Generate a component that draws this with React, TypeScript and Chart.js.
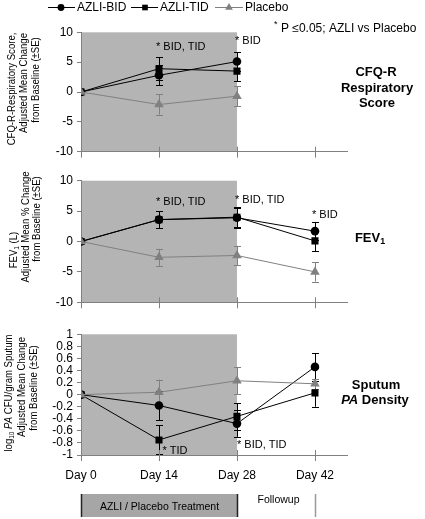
import React, { useEffect, useRef } from 'react';
import { Chart, registerables } from 'chart.js';

Chart.register(...registerables);

const W = 425;
const H = 519;
const FONT = '"Liberation Sans", Arial, Helvetica, sans-serif';

// ---------------- data ----------------
const days = [0, 14, 28, 42];
const dayLabels = ['Day 0', 'Day 14', 'Day 28', 'Day 42'];
const treatmentEndDay = 28;
const seriesNames = ['AZLI-BID', 'AZLI-TID', 'Placebo'];

// CFQ-R Respiratory Score
const cfqBid = [0, 2.8, 5.1];
const cfqBidSE = [0, 1.7, 1.6];
const cfqTid = [0, 3.9, 3.5];
const cfqTidSE = [0, 1.9, 1.7];
const cfqPlacebo = [0, -2.1, -0.7];
const cfqPlaceboSE = [0, 1.7, 1.7];
const cfqNotes = [
  { day: 14, value: 7.5, text: '* BID, TID' },
  { day: 28, value: 8.5, text: '* BID' },
];

// FEV1
const fevBid = [0, 3.6, 3.9, 1.7];
const fevBidSE = [0, 1.4, 1.6, 1.5];
const fevTid = [0, 3.6, 4.0, 0.1];
const fevTidSE = [0, 1.4, 1.6, 1.7];
const fevPlacebo = [0, -2.6, -2.3, -5.0];
const fevPlaceboSE = [0, 1.4, 1.6, 1.6];
const fevNotes = [
  { day: 14, value: 6.5, text: '* BID, TID' },
  { day: 28, value: 6.9, text: '* BID, TID' },
  { day: 42, value: 4.4, text: '* BID' },
];

// Sputum PA density
const paBid = [0, -0.18, -0.48, 0.46];
const paBidSE = [0, 0.24, 0.22, 0.23];
const paTid = [0, -0.75, -0.36, 0.03];
const paTidSE = [0, 0.24, 0.22, 0.23];
const paPlacebo = [0, 0.04, 0.23, 0.18];
const paPlaceboSE = [0, 0.21, 0.22, 0.08];
const paNotes = [
  { day: 14, value: -0.94, text: '* TID' },
  { day: 28, value: -0.83, text: '* BID, TID' },
];

// ---------------- styles ----------------
const SHADE = '#b4b4b4';
const AXIS = '#808080';
const GREY = '#808080';
const BLACK = '#000000';

type Seg = { t: string; sub?: boolean; italic?: boolean; bold?: boolean };
type Line = { segs: Seg[]; x: number; y: number };
type Series = { values: number[]; se: number[] };
type Note = { day: number; value: number; text: string };

interface PanelCfg {
  top: number;
  bottom: number;
  yMin: number;
  yMax: number;
  yStep: number;
  series: Series[];
  notes: Note[];
  noteDx: number[];
  yTitle: Line[];
  side: Line[];
  legend?: boolean;
  footer?: boolean;
}

const STYLES = [
  { color: BLACK, point: 'circle', radius: 4.3, order: 1 },
  { color: BLACK, point: 'rect', radius: 5, order: 2 },
  { color: GREY, point: 'triangle', radius: 5.5, order: 0 },
];

function segFont(s: Seg, size: number, bold: boolean) {
  const sz = s.sub ? size * 0.68 : size;
  return `${s.italic ? 'italic ' : ''}${bold || s.bold ? 'bold ' : ''}${sz}px ${FONT}`;
}

function drawRich(ctx: CanvasRenderingContext2D, segs: Seg[], cx: number, cy: number, size: number, bold: boolean) {
  let total = 0;
  const widths = segs.map((s) => {
    ctx.font = segFont(s, size, bold);
    const w = ctx.measureText(s.t).width;
    total += w;
    return w;
  });
  let x = cx - total / 2;
  ctx.textAlign = 'left';
  ctx.textBaseline = 'middle';
  segs.forEach((s, i) => {
    ctx.font = segFont(s, size, bold);
    ctx.fillText(s.t, x, cy + (s.sub ? size * 0.3 : 0));
    x += widths[i];
  });
}

function drawMarker(ctx: CanvasRenderingContext2D, style: string, x: number, y: number, r: number, color: string) {
  ctx.fillStyle = color;
  ctx.beginPath();
  if (style === 'circle') {
    ctx.arc(x, y, r, 0, Math.PI * 2);
  } else if (style === 'rect') {
    const s = r * Math.SQRT1_2;
    ctx.rect(x - s, y - s, 2 * s, 2 * s);
  } else {
    ctx.moveTo(x, y - r);
    ctx.lineTo(x + r * 0.866, y + r / 2);
    ctx.lineTo(x - r * 0.866, y + r / 2);
    ctx.closePath();
  }
  ctx.fill();
}

function makePlugin(cfg: PanelCfg) {
  return {
    id: 'panelDecor',
    beforeDraw(chart: any) {
      const { ctx, chartArea: ca } = chart;
      const xs = chart.scales.x;
      const x0 = xs.getPixelForValue(0);
      const x1 = xs.getPixelForValue(treatmentEndDay);
      ctx.save();
      ctx.fillStyle = SHADE;
      ctx.fillRect(x0, ca.top, x1 - x0, ca.bottom - ca.top);
      ctx.restore();
    },
    beforeDatasetsDraw(chart: any) {
      const { ctx } = chart;
      const xs = chart.scales.x;
      const ys = chart.scales.y;
      ctx.save();
      ctx.lineWidth = 1;
      cfg.series.forEach((s, i) => {
        ctx.strokeStyle = STYLES[i].color;
        s.values.forEach((v, j) => {
          const se = s.se[j];
          if (!se) return;
          const px = Math.round(xs.getPixelForValue(days[j])) + 0.5;
          const yt = ys.getPixelForValue(v + se);
          const yb = ys.getPixelForValue(v - se);
          ctx.beginPath();
          ctx.moveTo(px, yt);
          ctx.lineTo(px, yb);
          ctx.moveTo(px - 3.5, Math.round(yt) + 0.5);
          ctx.lineTo(px + 3.5, Math.round(yt) + 0.5);
          ctx.moveTo(px - 3.5, Math.round(yb) + 0.5);
          ctx.lineTo(px + 3.5, Math.round(yb) + 0.5);
          ctx.stroke();
        });
      });
      ctx.restore();
    },
    afterDraw(chart: any) {
      const { ctx, chartArea: ca } = chart;
      const xs = chart.scales.x;
      const ys = chart.scales.y;
      ctx.save();
      // x tick marks crossing the axis
      ctx.strokeStyle = AXIS;
      ctx.lineWidth = 1;
      days.forEach((d) => {
        const px = Math.round(xs.getPixelForValue(d)) + 0.5;
        ctx.beginPath();
        ctx.moveTo(px, ca.bottom - 5);
        ctx.lineTo(px, ca.bottom + 6);
        ctx.stroke();
      });
      // significance notes
      ctx.fillStyle = BLACK;
      ctx.font = `11px ${FONT}`;
      ctx.textAlign = 'left';
      ctx.textBaseline = 'middle';
      cfg.notes.forEach((n, i) => {
        ctx.fillText(n.text, xs.getPixelForValue(n.day) + (cfg.noteDx[i] || 0), ys.getPixelForValue(n.value));
      });
      // y titles (rotated)
      cfg.yTitle.forEach((l) => {
        ctx.save();
        ctx.translate(l.x, l.y);
        ctx.rotate(-Math.PI / 2);
        ctx.scale(0.87, 1);
        drawRich(ctx, l.segs, 0, 0, 11, false);
        ctx.restore();
      });
      // side labels
      ctx.fillStyle = BLACK;
      cfg.side.forEach((l) => drawRich(ctx, l.segs, l.x, l.y, 13, true));

      if (cfg.legend) {
        const items = [
          { x0: 48, x1: 75, m: 61, tx: 77 },
          { x0: 131, x1: 158, m: 145, tx: 160 },
          { x0: 215, x1: 243, m: 229, tx: 245 },
        ];
        const ly = 7;
        items.forEach((it, i) => {
          const st = STYLES[i];
          ctx.strokeStyle = st.color;
          ctx.lineWidth = 1;
          ctx.beginPath();
          ctx.moveTo(it.x0, ly + 0.5);
          ctx.lineTo(it.x1, ly + 0.5);
          ctx.stroke();
          drawMarker(ctx, st.point, it.m, ly + 0.5, st.radius * 0.8, st.color);
          ctx.fillStyle = BLACK;
          ctx.font = `12px ${FONT}`;
          ctx.textAlign = 'left';
          ctx.textBaseline = 'middle';
          ctx.fillText(seriesNames[i], it.tx, ly + 1);
        });
        ctx.font = `9px ${FONT}`;
        ctx.fillText('*', 274, 25);
        ctx.font = `12px ${FONT}`;
        ctx.fillText('P \u22640.05; AZLI vs Placebo', 281, 29);
      }

      if (cfg.footer) {
        ctx.fillStyle = BLACK;
        ctx.font = `12px ${FONT}`;
        ctx.textAlign = 'center';
        ctx.textBaseline = 'middle';
        days.forEach((d, i) => ctx.fillText(dayLabels[i], xs.getPixelForValue(d), 476));
        const bx0 = Math.round(xs.getPixelForValue(0)) + 0.5;
        const bx1 = Math.round(xs.getPixelForValue(treatmentEndDay)) + 0.5;
        const bx2 = Math.round(xs.getPixelForValue(42)) + 0.5;
        ctx.fillStyle = '#a6a6a6';
        ctx.fillRect(bx0, 494, bx1 - bx0, 23);
        ctx.strokeStyle = '#222222';
        ctx.lineWidth = 1.5;
        ctx.beginPath();
        ctx.moveTo(bx0, 494);
        ctx.lineTo(bx0, 517);
        ctx.moveTo(bx1, 494);
        ctx.lineTo(bx1, 517);
        ctx.stroke();
        ctx.strokeStyle = '#9a9a9a';
        ctx.beginPath();
        ctx.moveTo(bx2, 494);
        ctx.lineTo(bx2, 517);
        ctx.stroke();
        ctx.fillStyle = BLACK;
        ctx.font = `10.5px ${FONT}`;
        ctx.fillText('AZLI / Placebo Treatment', (bx0 + bx1) / 2, 507);
        ctx.fillText('Followup', (bx1 + bx2) / 2 + 2, 500);
      }
      ctx.restore();
    },
  };
}

const panels: PanelCfg[] = [
  {
    top: 32.3,
    bottom: 151.7,
    yMin: -10,
    yMax: 10,
    yStep: 5,
    series: [
      { values: cfqBid, se: cfqBidSE },
      { values: cfqTid, se: cfqTidSE },
      { values: cfqPlacebo, se: cfqPlaceboSE },
    ],
    notes: cfqNotes,
    noteDx: [-3, -2],
    yTitle: [
      { segs: [{ t: 'CFQ-R-Respiratory Score,' }], x: 11.5, y: 89 },
      { segs: [{ t: 'Adjusted Mean Change' }], x: 24, y: 83 },
      { segs: [{ t: 'from Baseline (\u00b1SE)' }], x: 36, y: 80 },
    ],
    side: [
      { segs: [{ t: 'CFQ-R' }], x: 376, y: 72 },
      { segs: [{ t: 'Respiratory' }], x: 377, y: 88 },
      { segs: [{ t: 'Score' }], x: 377, y: 103.5 },
    ],
    legend: true,
  },
  {
    top: 180.7,
    bottom: 302.3,
    yMin: -10,
    yMax: 10,
    yStep: 5,
    series: [
      { values: fevBid, se: fevBidSE },
      { values: fevTid, se: fevTidSE },
      { values: fevPlacebo, se: fevPlaceboSE },
    ],
    notes: fevNotes,
    noteDx: [-3, -2, -3],
    yTitle: [
      { segs: [{ t: 'FEV' }, { t: '1', sub: true }, { t: ' (L)' }], x: 13.5, y: 250 },
      { segs: [{ t: 'Adjusted Mean % Change' }], x: 25.5, y: 227 },
      { segs: [{ t: 'from Baseline (\u00b1SE)' }], x: 37, y: 219 },
    ],
    side: [{ segs: [{ t: 'FEV' }, { t: '1', sub: true }], x: 370, y: 238 }],
  },
  {
    top: 334.3,
    bottom: 455,
    yMin: -1,
    yMax: 1,
    yStep: 0.2,
    series: [
      { values: paBid, se: paBidSE },
      { values: paTid, se: paTidSE },
      { values: paPlacebo, se: paPlaceboSE },
    ],
    notes: paNotes,
    noteDx: [3.5, 0],
    yTitle: [
      {
        segs: [{ t: 'log' }, { t: '10', sub: true }, { t: ' ' }, { t: 'PA', italic: true }, { t: ' CFU/gram Sputum' }],
        x: 9,
        y: 393,
      },
      { segs: [{ t: 'Adjusted Mean Change' }], x: 21.5, y: 387 },
      { segs: [{ t: 'from Baseline (\u00b1SE)' }], x: 33.5, y: 388 },
    ],
    side: [
      { segs: [{ t: 'Sputum' }], x: 376, y: 385 },
      { segs: [{ t: 'PA', italic: true }, { t: ' Density' }], x: 375, y: 400 },
    ],
    footer: true,
  },
];

function Panel({ cfg }: { cfg: PanelCfg }) {
  const ref = useRef<HTMLCanvasElement | null>(null);
  useEffect(() => {
    if (!ref.current) return;
    const datasets = cfg.series.map((s, i) => ({
      label: seriesNames[i],
      data: s.values.map((v, j) => ({ x: days[j], y: v })),
      borderColor: STYLES[i].color,
      backgroundColor: STYLES[i].color,
      pointBackgroundColor: STYLES[i].color,
      pointBorderColor: STYLES[i].color,
      pointBorderWidth: 0,
      pointStyle: STYLES[i].point,
      pointRadius: STYLES[i].radius,
      borderWidth: 1,
      order: STYLES[i].order,
      tension: 0,
    }));
    const chart = new Chart(ref.current, {
      type: 'line',
      data: { datasets } as any,
      options: {
        responsive: false,
        animation: false,
        events: [],
        layout: { padding: { top: cfg.top, bottom: H - cfg.bottom, left: 0, right: W - 347 } },
        plugins: { legend: { display: false }, tooltip: { enabled: false } },
        scales: {
          x: {
            type: 'linear',
            min: 0,
            max: 47.75,
            grid: { display: false, drawTicks: false },
            border: { display: true, color: AXIS, width: 1 },
            ticks: { display: false },
            afterFit: (s: any) => {
              s.height = 0;
            },
          },
          y: {
            type: 'linear',
            min: cfg.yMin,
            max: cfg.yMax,
            grid: { drawOnChartArea: false, drawTicks: true, tickLength: 4, color: AXIS },
            border: { display: true, color: AXIS, width: 1 },
            ticks: {
              stepSize: cfg.yStep,
              autoSkip: false,
              color: BLACK,
              font: { size: 12, family: FONT },
              padding: 4,
              callback: (v: any) => String(Number(Number(v).toFixed(1))),
            },
            afterFit: (s: any) => {
              s.width = 81;
            },
          },
        },
      } as any,
      plugins: [makePlugin(cfg)],
    });
    return () => chart.destroy();
  }, [cfg]);
  return (
    <canvas
      ref={ref}
      width={W}
      height={H}
      style={{ position: 'absolute', left: 0, top: 0, width: W, height: H }}
    />
  );
}

export default function App() {
  return (
    <div
      style={{
        position: 'absolute',
        left: 0,
        top: 0,
        width: W,
        height: H,
        background: '#ffffff',
        overflow: 'hidden',
      }}
    >
      {panels.map((p, i) => (
        <Panel key={i} cfg={p} />
      ))}
    </div>
  );
}
